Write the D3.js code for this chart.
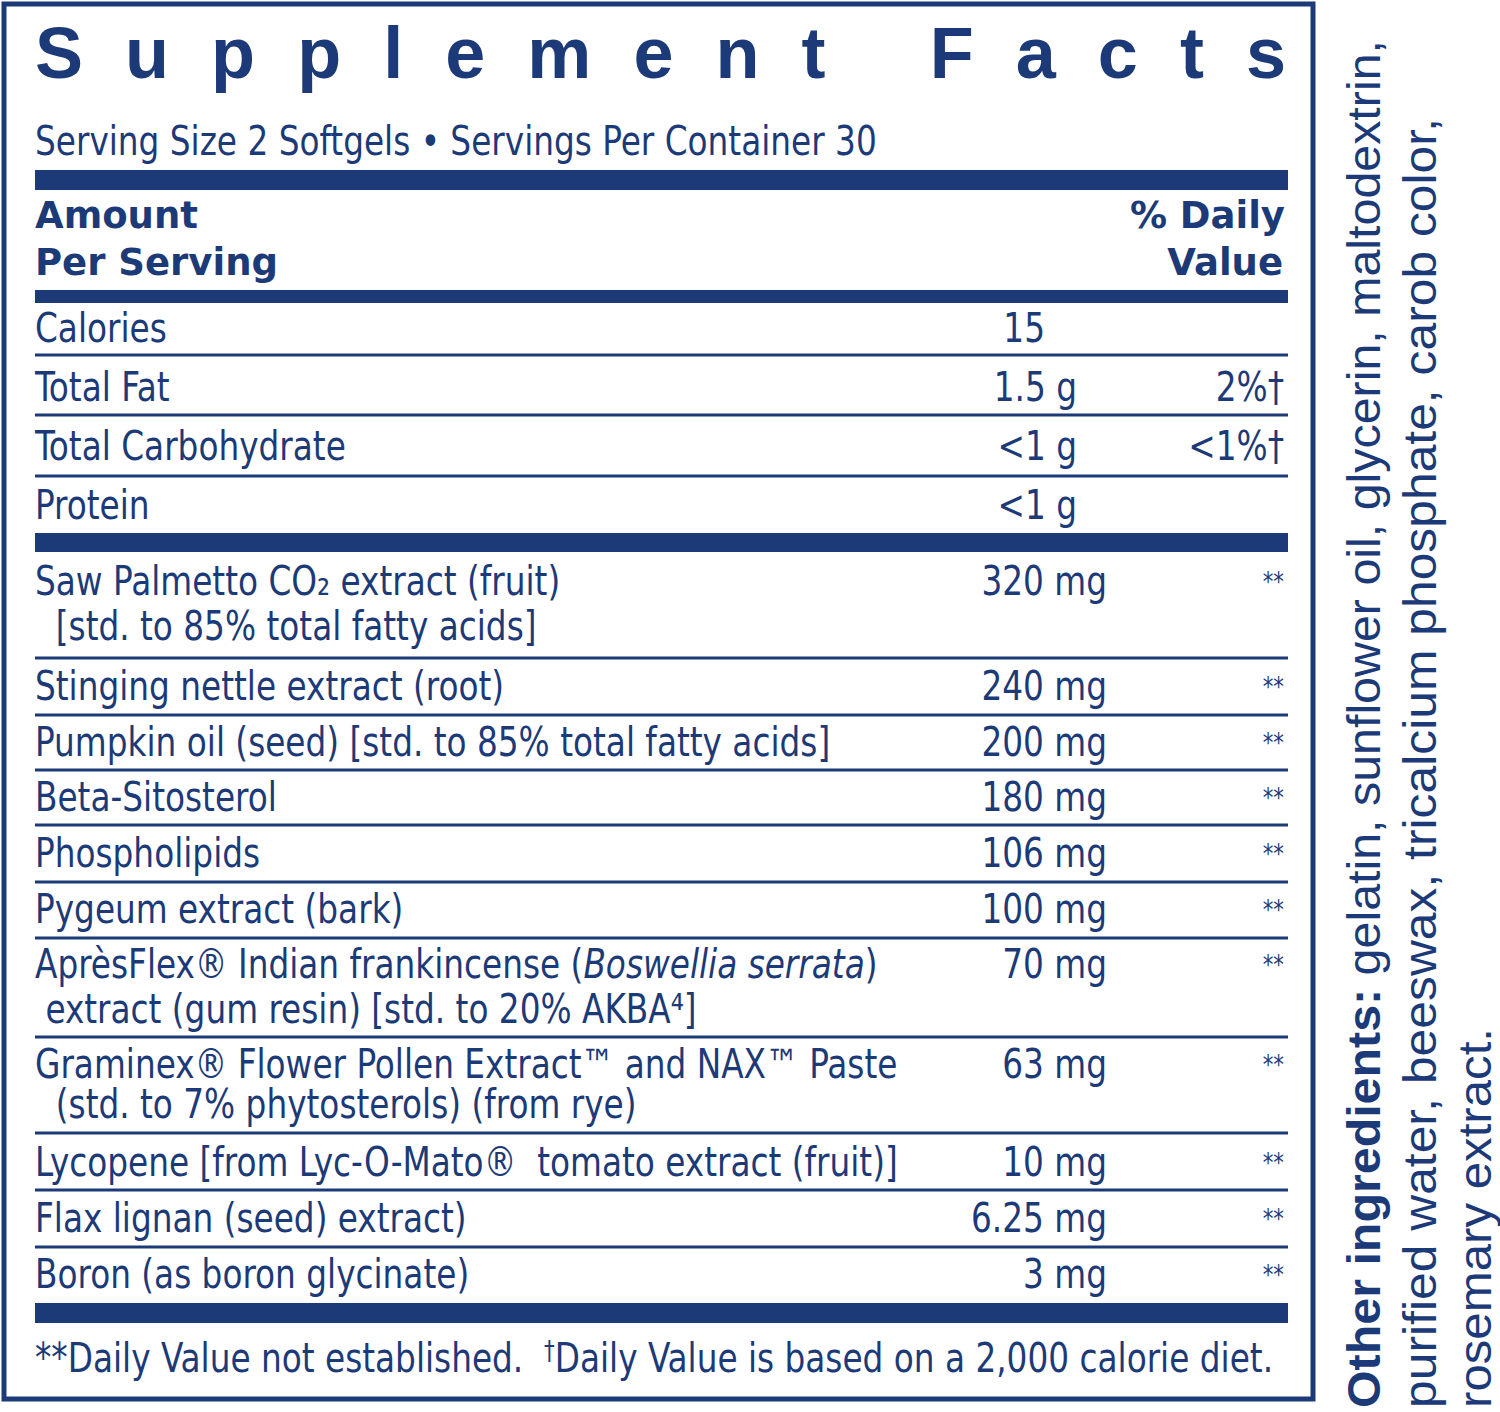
<!DOCTYPE html>
<html>
<head>
<meta charset="utf-8">
<script src="https://cdn.jsdelivr.net/npm/d3@7"></script>
<style>
  body { margin: 0; background: #fff; }
  text { fill: #1d3a78; }
</style>
</head>
<body>
<svg id="chart" width="1500" height="1412"></svg>
<script>
// ---- data ----
const nutrientNames = ['Calories', 'Total Fat', 'Total Carbohydrate', 'Protein'];
const nutrientAmounts = ['15', '1.5 g', '<1 g', '<1 g'];
const nutrientDV = ['', '2%†', '<1%†', ''];

const ingredientNames = [
  ['Saw Palmetto CO₂ extract (fruit)', '  [std. to 85% total fatty acids]'],
  ['Stinging nettle extract (root)'],
  ['Pumpkin oil (seed) [std. to 85% total fatty acids]'],
  ['Beta-Sitosterol'],
  ['Phospholipids'],
  ['Pygeum extract (bark)'],
  ['AprèsFlex® Indian frankincense (Boswellia serrata)', ' extract (gum resin) [std. to 20% AKBA⁴]'],
  ['Graminex® Flower Pollen Extract™ and NAX™ Paste', '  (std. to 7% phytosterols) (from rye)'],
  ['Lycopene [from Lyc-O-Mato®  tomato extract (fruit)]'],
  ['Flax lignan (seed) extract)'],
  ['Boron (as boron glycinate)']
];
const ingredientAmounts = ['320 mg', '240 mg', '200 mg', '180 mg', '106 mg', '100 mg',
  '70 mg', '63 mg', '10 mg', '6.25 mg', '3 mg'];

const otherLines = [
  ['Other ingredients: ', 'gelatin, sunflower oil, glycerin, maltodextrin,'],
  ['', 'purified water, beeswax, tricalcium phosphate, carob color,'],
  ['', 'rosemary extract.']
];

// ---- layout ----
const navy = '#1d3a78';
const L = 35, R = 1288;
const SX = 0.91; // squeeze the condensed font to match the label face
const svg = d3.select('#chart');
const cond = '"DejaVu Sans Condensed", sans-serif';

// text placed with a horizontal squeeze, anchor kept at (x, y)
function label(parent, x, y, anchor) {
  return parent.append('text')
    .attr('transform', `translate(${x},${y}) scale(${SX},1)`)
    .attr('text-anchor', anchor || 'start')
    .attr('xml:space', 'preserve').style('white-space', 'pre');
}

// outer frame
svg.append('rect').attr('x', 4).attr('y', 4).attr('width', 1309).attr('height', 1395)
  .attr('fill', 'none').attr('stroke', navy).attr('stroke-width', 5);

// title
svg.append('text').attr('x', L).attr('y', 78)
  .attr('textLength', R - L - 2).attr('lengthAdjust', 'spacing')
  .style('font-family', '"Liberation Sans", Arial, sans-serif').style('font-weight', 900)
  .style('font-size', '72px').text('Supplement Facts');

const body = svg.append('g').style('font-family', cond).style('font-size', '40px');

label(body, L, 155).text('Serving Size 2 Softgels • Servings Per Container 30');

// header
const hdr = svg.append('g').style('font-family', '"DejaVu Sans", Verdana, sans-serif')
  .style('font-weight', 'bold').style('font-size', '37px');
hdr.append('text').attr('x', L).attr('y', 228).text('Amount');
hdr.append('text').attr('x', L).attr('y', 275).text('Per Serving');
hdr.append('text').attr('x', R - 3).attr('y', 228).attr('text-anchor', 'end').text('% Daily');
hdr.append('text').attr('x', R - 5).attr('y', 275).attr('text-anchor', 'end').text('Value');

// thick bars
const thick = [[170, 20], [290, 13], [533, 19], [1303, 20]];
svg.selectAll('rect.bar').data(thick).join('rect').attr('class', 'bar')
  .attr('x', L).attr('width', R - L).attr('y', d => d[0]).attr('height', d => d[1]).attr('fill', navy);

// thin rules
const thin = [355, 415, 476, 658, 715, 770, 825, 882, 938, 1037, 1133, 1190, 1247];
svg.selectAll('line.rule').data(thin).join('line').attr('class', 'rule')
  .attr('x1', L).attr('x2', R).attr('y1', d => d).attr('y2', d => d)
  .attr('stroke', navy).attr('stroke-width', 3);

// nutrient rows
const nutY = d3.scalePoint().domain(d3.range(nutrientNames.length)).range([342, 519]);
const nutAmtX = [1045, 1077, 1077, 1077];
nutrientNames.forEach((n, i) => {
  const y = nutY(i);
  label(body, L, y).text(n);
  label(body, nutAmtX[i], y, 'end').text(nutrientAmounts[i]);
  if (nutrientDV[i]) label(body, R - 4, y, 'end').text(nutrientDV[i]);
});

// ingredient rows
const ingY = [595, 700, 756, 811, 867, 923, 978, 1078, 1176, 1232, 1288];
ingredientNames.forEach((lines, i) => {
  const y = ingY[i];
  lines.forEach((ln, j) => {
    const t = label(body, L, y + j * (i === 7 ? 40 : 45));
    if (ln.includes('Boswellia serrata')) {
      const parts = ln.split('Boswellia serrata');
      t.append('tspan').text(parts[0]);
      t.append('tspan').style('font-style', 'italic').text('Boswellia serrata');
      t.append('tspan').text(parts[1]);
    } else t.text(ln);
  });
  label(body, 1107, y, 'end').text(ingredientAmounts[i]);
  label(body, R - 4, y - 4, 'end').style('font-size', '26px').text('**');
});

// footnote
const foot = label(body, L, 1372);
foot.append('tspan').text('**Daily Value not established.  ');
foot.append('tspan').attr('dy', -12).style('font-size', '26px').text('†');
foot.append('tspan').attr('dy', 12).text('Daily Value is based on a 2,000 calorie diet.');

// other ingredients (rotated)
const lineX = [1380, 1436, 1491];
const lineLen = [1368, 1290, 380];
otherLines.forEach((ln, i) => {
  const t = svg.append('text')
    .attr('transform', `translate(${lineX[i]},1408) rotate(-90)`)
    .attr('textLength', lineLen[i]).attr('lengthAdjust', 'spacingAndGlyphs')
    .attr('xml:space', 'preserve').style('white-space', 'pre')
    .style('font-family', '"Liberation Sans", Arial, sans-serif').style('font-size', '46px');
  if (ln[0]) t.append('tspan').style('font-weight', 'bold').text(ln[0]);
  t.append('tspan').text(ln[1]);
});
</script>
</body>
</html>
